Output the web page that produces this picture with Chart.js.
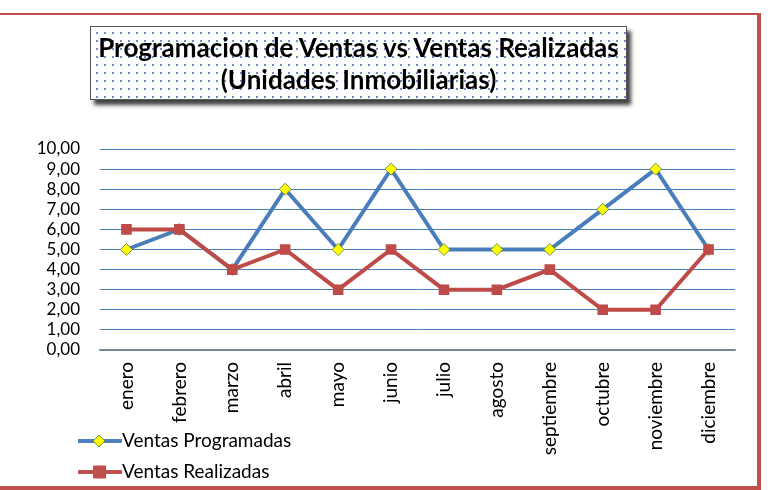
<!DOCTYPE html>
<html>
<head>
<meta charset="utf-8">
<script src="https://cdn.jsdelivr.net/npm/chart.js@4.4.0/dist/chart.umd.min.js"></script>
<style>
  html, body { margin:0; padding:0; background:#fff; }
  #wrap { position:relative; width:771px; height:490px; overflow:hidden; font-family: Lato, "Open Sans", sans-serif; }
  #frame { position:absolute; left:-10px; top:13px; width:767px; height:471px; border-top:2px solid #C0504D; border-right:4px solid #C0504D; border-bottom:4px solid #C0504D; }
  #titlebox { position:absolute; left:90px; top:26px; width:537px; height:74px; border:1px solid #555;
    background-color:#fff;
    background-image: radial-gradient(circle, #6f8fc8 0.9px, transparent 1.3px);
    background-size: 8px 8px; background-position: 2px 2px;
    box-shadow: 4px 5px 4px rgba(0,0,0,0.75);
    text-align:center; font-weight:bold; font-size:26px; line-height:32px; color:#000; padding-top:4px; box-sizing:border-box; white-space:nowrap; }
  #c { position:absolute; left:0; top:0; }
  .leg { position:absolute; left:78px; font-size:19px; color:#000; height:22px; line-height:22px; }
  .leg svg { vertical-align:middle; position:relative; top:-1px; }
  .leg span { margin-left:0px; }
</style>
</head>
<body>
<div id="wrap">
  <canvas id="c" width="771" height="490"></canvas>
  <div id="frame"></div>
  <div id="titlebox">Programacion de Ventas vs Ventas Realizadas<br>(Unidades Inmobiliarias)</div>
  <div class="leg" style="top:429px;"><svg width="44" height="14"><line x1="1" y1="7" x2="43" y2="7" stroke="#4F81BD" stroke-width="4" stroke-linecap="round"/><polygon points="21,1 27,7 21,13 15,7" fill="#FFFF00" stroke="#4a7a40" stroke-width="0.8"/></svg><span id="l1"></span></div>
  <div class="leg" style="top:460px;"><svg width="44" height="14"><line x1="1" y1="7" x2="43" y2="7" stroke="#C0504D" stroke-width="4" stroke-linecap="round"/><rect x="15" y="0.5" width="13" height="13" fill="#C0504D"/></svg><span id="l2"></span></div>
</div>
<script>
const categories = ["enero","febrero","marzo","abril","mayo","junio","julio","agosto","septiembre","octubre","noviembre","diciembre"];
const seriesNames = ["Ventas Programadas","Ventas Realizadas"];
const ventasProgramadas = [5,6,4,8,5,9,5,5,5,7,9,5];
const ventasRealizadas = [6,6,4,5,3,5,3,3,4,2,2,5];
const yTicks = [0,1,2,3,4,5,6,7,8,9,10];

document.getElementById('l1').textContent = seriesNames[0];
document.getElementById('l2').textContent = seriesNames[1];

Chart.defaults.font.family = 'Lato, "Open Sans", sans-serif';
Chart.defaults.color = '#000';

new Chart(document.getElementById('c'), {
  type: 'line',
  data: {
    labels: categories,
    datasets: [
      { label: seriesNames[0], data: ventasProgramadas, borderColor:'#4A7EBB', backgroundColor:'#FFFF00',
        borderWidth:4, pointStyle:'rectRot', pointRadius:6, pointHoverRadius:6, pointBorderColor:'#4a7a40', pointBorderWidth:0.8,
        tension:0, order:2 },
      { label: seriesNames[1], data: ventasRealizadas, borderColor:'#BE4B48', backgroundColor:'#BE4B48',
        borderWidth:4, pointStyle:'rect', pointRadius:7.5, pointHoverRadius:7.5, pointBorderColor:'#BE4B48', pointBorderWidth:0,
        tension:0, order:1 }
    ]
  },
  options: {
    responsive:false, animation:false,
    layout: { padding: { top:149, right:36, left:0, bottom:0 } },
    plugins: { legend:{display:false}, title:{display:false}, tooltip:{enabled:false} },
    scales: {
      x: {
        offset:true,
        grid:{ display:false, drawTicks:false },
        border:{ display:true, color:'#888', width:1.5 },
        ticks:{ minRotation:90, maxRotation:90, padding:12, font:{size:19}, autoSkip:false },
        afterFit(s){ s.height = 140; }
      },
      y: {
        min:0, max:10,
        afterBuildTicks(s){ s.ticks = yTicks.map(v=>({value:v})); },
        grid:{ color:'#4A7EBB', lineWidth:1, drawTicks:false },
        border:{ display:false },
        ticks:{ padding:20, font:{size:17}, autoSkip:false, stepSize:1, callback:(v)=> v.toFixed(2).replace('.', ',') },
        afterFit(s){ s.width = 100; }
      }
    }
  }
});
</script>
</body>
</html>
